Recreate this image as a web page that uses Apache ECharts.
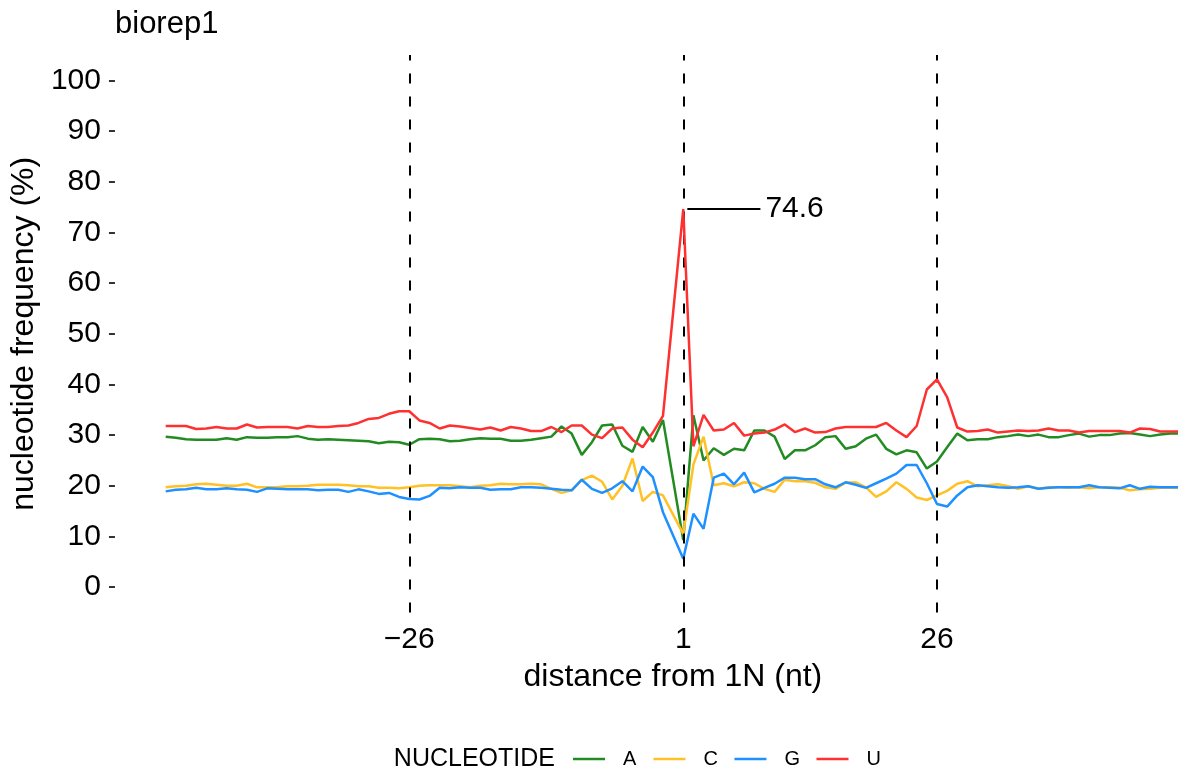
<!DOCTYPE html>
<html>
<head>
<meta charset="utf-8">
<script src="https://cdn.jsdelivr.net/npm/echarts@6/dist/echarts.min.js"></script>
<style>
html,body{margin:0;padding:0;background:#fff;overflow:hidden;}
#chart{width:1178px;height:776px;}
</style>
</head>
<body>
<div id="chart"></div>
<script>
// distance from 1N (nt); there is no position 0
const POSITIONS = [
  -50,-49,-48,-47,-46,-45,-44,-43,-42,-41,
  -40,-39,-38,-37,-36,-35,-34,-33,-32,-31,
  -30,-29,-28,-27,-26,-25,-24,-23,-22,-21,
  -20,-19,-18,-17,-16,-15,-14,-13,-12,-11,
  -10,-9,-8,-7,-6,-5,-4,-3,-2,-1,
  1,2,3,4,5,6,7,8,9,10,
  11,12,13,14,15,16,17,18,19,20,
  21,22,23,24,25,26,27,28,29,30,
  31,32,33,34,35,36,37,38,39,40,
  41,42,43,44,45,46,47,48,49,50
];
const A_VALUES = [
  29.7,29.5,29.2,29.1,29.1,29.1,29.4,29.1,29.6,29.5,
  29.5,29.6,29.6,29.8,29.3,29.1,29.2,29.1,29.0,28.9,
  28.8,28.4,28.7,28.6,28.1,29.2,29.3,29.2,28.8,28.9,
  29.2,29.4,29.3,29.3,28.9,28.9,29.1,29.4,29.7,31.7,
  30.3,26.1,28.6,31.9,32.1,27.9,26.7,31.6,28.7,33.0,
  9.3,33.9,25.0,27.4,26.1,27.3,27.0,30.9,30.9,29.7,
  25.3,27.0,27.0,28.0,29.6,29.8,27.3,27.8,29.3,30.1,
  27.3,26.2,27.0,26.6,23.4,24.8,27.6,30.3,29.0,29.2,
  29.2,29.6,29.8,30.1,29.8,30.1,29.6,29.6,30.0,30.3,
  29.7,30.0,30.0,30.3,30.4,30.1,29.8,30.1,30.3,30.3
];
const C_VALUES = [
  19.7,19.9,20.0,20.3,20.4,20.2,20.0,20.0,20.4,19.7,
  19.7,19.7,19.9,19.9,20.0,20.2,20.2,20.2,20.1,19.9,
  19.9,19.6,19.6,19.5,19.7,20.0,20.1,20.1,20.1,19.9,
  19.7,20.0,20.1,20.4,20.3,20.3,20.4,20.3,19.4,18.6,
  19.1,21.1,22.0,20.8,17.3,20.0,25.4,17.0,18.8,18.1,
  10.5,24.2,29.7,20.1,20.5,19.9,20.7,20.5,19.4,18.8,
  21.2,20.9,20.9,20.6,19.7,19.4,20.6,20.7,19.7,17.8,
  18.9,20.7,19.4,17.7,17.2,18.1,19.0,20.4,20.9,19.9,
  20.1,20.3,19.9,19.4,19.9,19.4,19.7,19.7,19.6,19.7,
  19.5,19.7,19.7,19.6,19.1,19.3,19.4,19.6,19.6,19.6
];
const G_VALUES = [
  18.9,19.2,19.3,19.6,19.3,19.3,19.5,19.3,19.2,18.8,
  19.5,19.4,19.3,19.3,19.3,19.1,19.2,19.2,18.8,19.3,
  18.9,18.4,18.6,17.8,17.4,17.3,18.0,19.6,19.5,19.7,
  19.6,19.6,19.2,19.3,19.3,19.7,19.7,19.6,19.4,19.2,
  19.1,21.2,19.4,18.6,19.5,20.9,18.9,23.8,21.7,14.8,
  5.6,14.5,11.5,21.6,22.4,20.3,22.6,18.7,19.6,20.4,
  21.6,21.6,21.3,21.3,20.3,19.7,20.7,20.2,19.6,20.5,
  21.4,22.4,24.1,24.1,20.5,16.4,15.9,18.1,19.7,20.1,
  19.9,19.7,19.6,19.7,19.9,19.4,19.6,19.7,19.7,19.7,
  20.1,19.7,19.6,19.5,20.1,19.4,19.8,19.7,19.7,19.7
];
const U_VALUES = [
  31.8,31.8,31.8,31.2,31.3,31.6,31.3,31.3,32.1,31.5,
  31.6,31.6,31.6,31.3,31.8,31.6,31.6,31.8,31.9,32.4,
  33.2,33.4,34.2,34.7,34.7,32.9,32.4,31.3,31.9,31.7,
  31.4,31.1,31.5,30.9,31.6,31.3,30.8,30.8,31.6,30.6,
  31.9,31.9,30.1,29.4,31.3,31.5,29.1,27.6,30.5,33.8,
  74.6,27.8,34.0,30.9,31.1,32.4,29.9,30.3,30.5,31.1,
  32.1,30.6,31.3,30.5,30.6,31.3,31.6,31.6,31.6,31.6,
  32.4,30.9,29.6,31.8,39.0,41.0,37.5,31.5,30.7,30.8,
  31.1,30.5,30.7,30.9,30.8,30.9,31.3,30.9,30.9,30.5,
  30.8,30.8,30.8,30.8,30.5,31.3,31.2,30.7,30.7,30.7
];
const NUCLEOTIDES = ['A','C','G','U'];
const COLORS = ['#228B22','#FFC125','#1E90FF','#FF3030'];
const X_TICKS = [-26, 1, 26];
const Y_TICKS = [0,10,20,30,40,50,60,70,80,90,100];
const VLINES = [-26, 1, 26];
const PEAK_LABEL = {value: 74.6, from: 1.4, to: 8.6, text: '74.6'};

const FONT = "'Liberation Sans', Arial, Helvetica, sans-serif";
const valuesBy = {A: A_VALUES, C: C_VALUES, G: G_VALUES, U: U_VALUES};

const chart = echarts.init(document.getElementById('chart'), null, {renderer: 'canvas'});

const X_MIN = -55, X_MAX = 49.75;
const GRID = {left: 114.4, right: 0, top: 55, bottom: 163.5};

const series = NUCLEOTIDES.map((n, i) => ({
  name: n,
  type: 'line',
  data: POSITIONS.map((p, j) => [p, valuesBy[n][j]]),
  symbol: 'none',
  showSymbol: false,
  smooth: false,
  lineStyle: {color: COLORS[i], width: 2.5},
  itemStyle: {color: COLORS[i]},
  emphasis: {disabled: true},
  z: 2 + i,
  animation: false
}));

// peak annotation
series[3].markLine = {
  silent: true,
  symbol: 'none',
  animation: false,
  lineStyle: {color: '#000', width: 2, type: 'solid'},
  label: {
    show: true, position: 'end', distance: 5,
    formatter: PEAK_LABEL.text,
    color: '#000', fontSize: 30, fontFamily: FONT
  },
  data: [[{coord: [PEAK_LABEL.from, PEAK_LABEL.value]}, {coord: [PEAK_LABEL.to, PEAK_LABEL.value]}]]
};

// dashed reference lines
series.push({
  name: 'ref',
  type: 'line',
  data: [],
  z: 10,
  markLine: {
    silent: true,
    symbol: 'none',
    animation: false,
    lineStyle: {color: '#000', width: 2, type: [10, 13]},
    label: {show: false},
    data: VLINES.map(v => ({xAxis: v}))
  }
});

// x title centred on the panel, whose right part lies outside the picture
const chartW = 1178;
const unitPx = (chartW - GRID.left - GRID.right) / (X_MAX - X_MIN);
const xTitleCenter = GRID.left + (0 - X_MIN) * unitPx;

const option = {
  animation: false,
  backgroundColor: '#fff',
  textStyle: {fontFamily: FONT},
  grid: Object.assign({containLabel: false}, GRID),
  xAxis: {
    type: 'value',
    min: X_MIN, max: X_MAX,
    axisLine: {show: false, onZero: false},
    axisTick: {show: false},
    splitLine: {show: false},
    axisLabel: {
      customValues: X_TICKS,
      fontSize: 30, color: '#000', fontFamily: FONT, margin: 12.5,
      formatter: v => String(v).replace('-', '\u2212')
    }
  },
  yAxis: {
    type: 'value',
    min: -5, max: 105,
    name: 'nucleotide frequency (%)',
    nameLocation: 'middle',
    nameGap: 65,
    nameTextStyle: {fontSize: 32, color: '#000', fontFamily: FONT},
    axisLine: {show: false, onZero: false},
    axisTick: {show: true, customValues: Y_TICKS, length: 6, lineStyle: {color: '#333', width: 2}},
    splitLine: {show: false},
    axisLabel: {customValues: Y_TICKS, fontSize: 30, color: '#000', fontFamily: FONT, margin: 14}
  },
  legend: {
    data: NUCLEOTIDES,
    left: 573, top: 749,
    padding: 0,
    orient: 'horizontal',
    icon: 'rect',
    itemWidth: 32, itemHeight: 2.5,
    itemGap: 16.5,
    selectedMode: false,
    textStyle: {fontSize: 20, color: '#000', fontFamily: FONT, padding: [0, 0, 0, 13], width: 14, lineHeight: 20}
  },
  graphic: [
    {type: 'text', left: 115, top: 9, style: {text: 'biorep1', fill: '#000', font: "31px 'Liberation Sans', Arial, sans-serif"}},
    {type: 'text', x: xTitleCenter, y: 677.5, style: {text: 'distance from 1N (nt)', align: 'center', verticalAlign: 'middle', fill: '#000', font: "32px 'Liberation Sans', Arial, sans-serif"}},
    {type: 'text', x: 555, y: 759.5, style: {text: 'NUCLEOTIDE', align: 'right', verticalAlign: 'middle', fill: '#000', font: "25px 'Liberation Sans', Arial, sans-serif"}}
  ],
  series: series
};
chart.setOption(option);
</script>
</body>
</html>
